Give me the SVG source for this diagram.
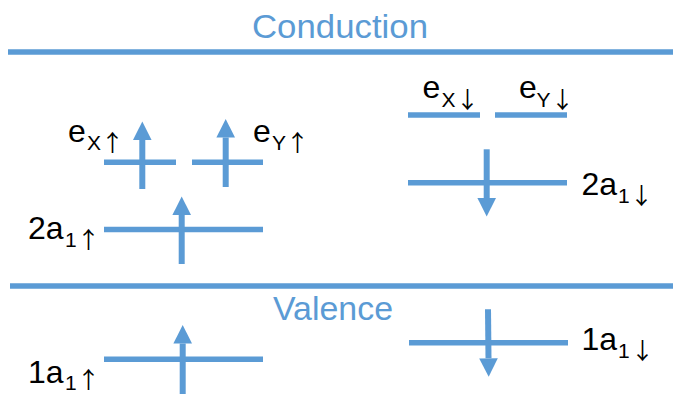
<svg xmlns="http://www.w3.org/2000/svg" width="673" height="394" viewBox="0 0 673 394">
<style>
.band{stroke:#5B9BD5;stroke-width:5.5;fill:none}
.lvl{stroke:#5B9BD5;stroke-width:5.5;fill:none}
.arr{stroke:#5B9BD5;stroke-width:6;fill:none;marker-end:url(#head)}
.title{font-family:"Liberation Sans",Arial,sans-serif;font-size:33px;fill:#5B9BD5}
.lbl{font-family:"Liberation Sans",Arial,sans-serif;font-size:32px;fill:#000}
.sub{font-size:21px}
.ar{font-family:"Noto Sans CJK JP","DejaVu Sans",sans-serif;font-size:23px}
</style>
<defs>
<marker id="head" markerUnits="userSpaceOnUse" viewBox="0 -10 20 20" markerWidth="20" markerHeight="20" refX="0" refY="0" orient="auto">
<path d="M0,-9.3 L18.5,0 L0,9.3 z" fill="#5B9BD5"/>
</marker>
</defs>
<rect width="673" height="394" fill="#fff"/>
<g id="conduction">
<line class="band" x1="8" y1="52" x2="673" y2="52"/>
<text class="title" x="252" y="38" textLength="176" lengthAdjust="spacingAndGlyphs">Conduction</text>
</g>
<g id="valence">
<line class="band" x1="10" y1="286" x2="673" y2="286"/>
<text class="title" x="273" y="320" textLength="120" lengthAdjust="spacingAndGlyphs">Valence</text>
</g>
<g id="ex-up">
<line class="lvl" x1="104" y1="162.3" x2="176" y2="162.3"/>
<text class="lbl" x="68" y="141.5">e<tspan class="sub" x="87" y="150">X</tspan><tspan class="ar" x="101" y="151">↑</tspan></text>
</g>
<g id="ey-up">
<line class="lvl" x1="192" y1="162.3" x2="263" y2="162.3"/>
<text class="lbl" x="253" y="141.5">e<tspan class="sub" x="272" y="150">Y</tspan><tspan class="ar" x="286" y="151">↑</tspan></text>
</g>
<g id="a2-up">
<line class="lvl" x1="104" y1="229.5" x2="263" y2="229.5"/>
<text class="lbl" x="28" y="239">2a<tspan class="sub" x="65" y="247">1</tspan><tspan class="ar" x="77" y="248">↑</tspan></text>
</g>
<g id="ex-down">
<line class="lvl" x1="408" y1="115" x2="480" y2="115"/>
<text class="lbl" x="422.5" y="98">e<tspan class="sub" x="441.5" y="106.5">X</tspan><tspan class="ar" x="456" y="107.5">↓</tspan></text>
</g>
<g id="ey-down">
<line class="lvl" x1="495" y1="115" x2="567" y2="115"/>
<text class="lbl" x="519" y="98">e<tspan class="sub" x="536.5" y="106.5">Y</tspan><tspan class="ar" x="551" y="107.5">↓</tspan></text>
</g>
<g id="a2-down">
<line class="lvl" x1="408" y1="182.7" x2="567" y2="182.7"/>
<text class="lbl" x="581.5" y="195">2a<tspan class="sub" x="618" y="203">1</tspan><tspan class="ar" x="630" y="204">↓</tspan></text>
</g>
<g id="a1-up">
<line class="lvl" x1="104" y1="359.3" x2="263" y2="359.3"/>
<text class="lbl" x="28" y="383.3">1a<tspan class="sub" x="65" y="390">1</tspan><tspan class="ar" x="77" y="388">↑</tspan></text>
</g>
<g id="a1-down">
<line class="lvl" x1="409" y1="342.7" x2="568" y2="342.7"/>
<text class="lbl" x="581.5" y="350">1a<tspan class="sub" x="618" y="358">1</tspan><tspan class="ar" x="631" y="359">↓</tspan></text>
</g>
<g id="connectors">
<line class="arr" x1="142.3" y1="189" x2="142.3" y2="140"/>
<line class="arr" x1="225.7" y1="187" x2="225.7" y2="137.5"/>
<line class="arr" x1="181.7" y1="264" x2="181.7" y2="215"/>
<line class="arr" x1="486.7" y1="149.3" x2="486.7" y2="198"/>
<line class="arr" x1="182.7" y1="394" x2="182.7" y2="343.5"/>
<line class="arr" x1="488" y1="309.3" x2="488.5" y2="358.3"/>
</g>
</svg>
